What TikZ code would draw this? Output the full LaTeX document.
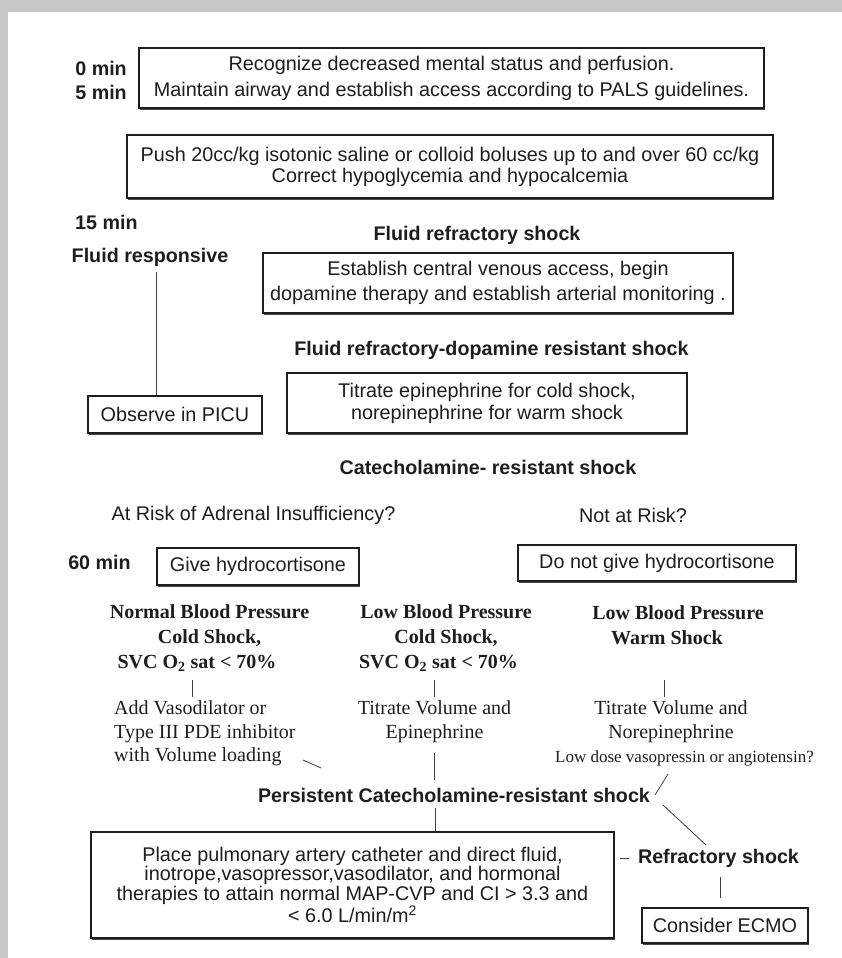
\documentclass[tikz,border=0pt]{standalone}
\usepackage{fontspec}
\setmainfont{Liberation Serif}
\newfontfamily\sansf{Liberation Sans}
\usetikzlibrary{shadows}
\definecolor{framegray}{RGB}{198,198,198}
\definecolor{ink}{RGB}{30,30,30}
\begin{document}
\begin{tikzpicture}[x=1pt,y=-1pt,
 box/.style={draw=ink, line width=1.1pt, fill=white, inner sep=0pt, align=center, text=ink,
   font=\sansf\fontsize{19.8}{23}\selectfont,
   drop shadow={shadow xshift=1.2pt, shadow yshift=-2pt, fill=ink!80, opacity=1}},
 lab/.style={inner sep=0pt, text=ink, font=\sansf\bfseries\fontsize{19.7}{23}\selectfont},
 txt/.style={inner sep=0pt, text=ink, font=\sansf\fontsize{19.8}{23}\selectfont},
 sb/.style={inner sep=0pt, text=ink, align=center, font=\bfseries\fontsize{20}{25}\selectfont},
 sr/.style={inner sep=0pt, text=ink, font=\fontsize{20}{23.5}\selectfont},
 conn/.style={draw=ink!85, line width=0.8pt}]

\useasboundingbox (0,0) rectangle (842,958);
\fill[framegray] (0,0) rectangle (842,958);
\fill[white] (8,12) rectangle (842,958);

% time labels
\node[lab, anchor=east] (m0) at (127,68) {0 min};
\node[lab, anchor=east] (m5) at (127,92) {5 min};
\node[lab, anchor=west] (m15) at (75,222) {15 min};
\node[lab] (m60) at (99.5,562) {60 min};

% boxes
\node[box, minimum width=625pt, minimum height=60pt, font=\sansf\fontsize{19.8}{26}\selectfont] (b1) at (451.5,78)
  {Recognize decreased mental status and perfusion.\\Maintain airway and establish access according to PALS guidelines.};
\node[box, minimum width=646pt, minimum height=63pt, font=\sansf\fontsize{19.8}{21}\selectfont] (b2) at (450,166.5)
  {Push 20cc/kg isotonic saline or colloid boluses up to and over 60 cc/kg\\Correct hypoglycemia and hypocalcemia};
\node[lab] (frs) at (477,235) {Fluid refractory shock};
\node[lab] (fresp) at (150,257) {Fluid responsive};
\node[box, minimum width=470pt, minimum height=60pt, font=\sansf\fontsize{19.8}{25}\selectfont] (b3) at (498,283)
  {Establish central venous access, begin\\dopamine therapy and establish arterial monitoring .};
\node[lab] (frd) at (491.5,350) {Fluid refractory-dopamine resistant shock};
\node[box, minimum width=400pt, minimum height=60pt, font=\sansf\fontsize{19.8}{22}\selectfont] (b4) at (487,403)
  {Titrate epinephrine for cold shock,\\norepinephrine for warm shock};
\node[box, minimum width=174pt, minimum height=37pt] (picu) at (175,414.5) {Observe in PICU};
\node[lab] (crs) at (488,467) {Catecholamine- resistant shock};
\node[txt] (risk) at (253.5,515) {At Risk of Adrenal Insufficiency?};
\node[txt] (norisk) at (633,515) {Not at Risk?};
\node[box, minimum width=202pt, minimum height=37pt] (give) at (258,566.5) {Give hydrocortisone};
\node[box, minimum width=278pt, minimum height=36pt] (nogive) at (657,563) {Do not give hydrocortisone};

% three columns
\node[sb] (h1) at (209.5,638) {Normal Blood Pressure\\Cold Shock,\hspace*{37pt}\\SVC O\textsubscript{2} sat < 70\%\hspace*{25pt}};
\node[sb] (h2) at (446,638) {Low Blood Pressure\\Cold Shock,\hspace*{24pt}\\SVC O\textsubscript{2} sat < 70\%\hspace*{15pt}};
\node[sb] (h3) at (678,625.5) {Low Blood Pressure\\Warm Shock\hspace*{22pt}};

\node[sr, anchor=west, align=left] (a1) at (114,733.5) {Add Vasodilator or\\Type III PDE inhibitor\\with Volume loading};
\node[sr, align=center] (a2) at (434.5,721.5) {Titrate Volume and\\Epinephrine};
\node[sr, align=center] (a3) at (671,721.5) {Titrate Volume and\\Norepinephrine};
\node[sr, font=\fontsize{17}{20}\selectfont] (a3b) at (684.5,758) {Low dose vasopressin or angiotensin?};

\node[lab] (pcrs) at (454,795) {Persistent Catecholamine-resistant shock};
\node[box, minimum width=523pt, minimum height=106pt, font=\sansf\fontsize{19.8}{19.5}\selectfont] (b5) at (352.5,885)
  {Place pulmonary artery catheter and direct fluid,\\inotrope,vasopressor,vasodilator, and hormonal\\therapies to attain normal MAP-CVP and CI > 3.3 and\\< 6.0 L/min/m\textsuperscript{2}};
\node[lab] (refr) at (718.5,858) {Refractory shock};
\node[box, minimum width=166pt, minimum height=35pt] (ecmo) at (725,925.5) {Consider ECMO};

% connector coordinates
\coordinate (t1a) at (192,680); \coordinate (t1b) at (192,697);
\coordinate (t2a) at (434,680); \coordinate (t2b) at (434,697);
\coordinate (t3a) at (664,680); \coordinate (t3b) at (664,697);
\coordinate (d1a) at (303,760); \coordinate (d1b) at (321,768);
\coordinate (v2a) at (434,753); \coordinate (v2b) at (434,780);
\coordinate (s3a) at (668,774); \coordinate (s3b) at (655,795);
\coordinate (p1) at (435,808);
\coordinate (r1a) at (663,805); \coordinate (r1b) at (706,845);
\coordinate (dsa) at (620,858); \coordinate (dsb) at (629,858);
\coordinate (e1) at (720,877); \coordinate (e2) at (720,898);

\draw[conn] ([xshift=6pt,yshift=-6pt]fresp.south) -- ([xshift=6pt]fresp.south |- picu.north);
\draw[conn] (t1a) -- (t1b);
\draw[conn] (t2a) -- (t2b);
\draw[conn] (t3a) -- (t3b);
\draw[conn] (d1a) -- (d1b);
\draw[conn] (v2a) -- (v2b);
\draw[conn] (s3a) -- (s3b);
\draw[conn] (p1) -- (p1 |- b5.north);
\draw[conn] (r1a) -- (r1b);
\draw[conn] (dsa) -- (dsb);
\draw[conn] (e1) -- (e2);
\end{tikzpicture}
\end{document}
